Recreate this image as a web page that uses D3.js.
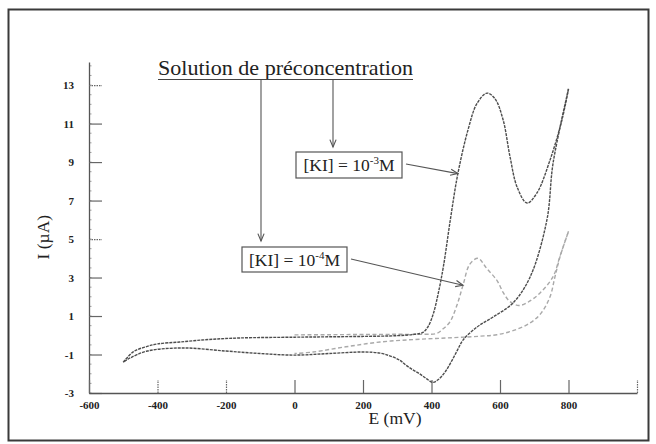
<!DOCTYPE html>
<html>
<head>
<meta charset="utf-8">
<script src="https://cdn.jsdelivr.net/npm/d3@7"></script>
<style>
  html, body { margin: 0; padding: 0; background: #fff; }
  svg { display: block; }
  text { font-family: "Liberation Serif", "Times New Roman", serif; fill: #222; }
</style>
</head>
<body>
<svg id="chart" width="656" height="444"></svg>
<script>
// Cyclic voltammograms after preconcentration in KI solutions
// Potential E in mV, current I in µA

// [KI] = 1e-3 M : forward scan -500 -> 800 mV, then back to -500 mV
const e3Forward = [-500, -470, -430, -400, -335, -250, -160, 0, 100, 200, 300, 350, 375, 390, 405, 420, 435, 455, 477, 507, 533, 562, 585, 609, 629, 650, 679, 708, 746, 781, 800];
const i3Forward = [-1.40, -0.85, -0.58, -0.45, -0.35, -0.22, -0.14, -0.10, -0.08, -0.06, -0.02, 0.05, 0.15, 0.45, 1.1, 2.2, 3.6, 6.0, 8.4, 10.7, 12.05, 12.58, 12.3, 11.2, 9.3, 7.7, 6.87, 7.4, 9.1, 11.2, 12.8];
const e3Reverse = [800, 755, 737, 688, 638, 580, 533, 492, 475, 460, 440, 420, 404, 385, 365, 346, 325, 308, 280, 250, 200, 100, 0, -100, -200, -325, -430, -480, -500];
const i3Reverse = [12.8, 8.95, 6.0, 3.03, 1.68, 0.95, 0.43, -0.25, -0.8, -1.3, -1.9, -2.3, -2.45, -2.25, -2.0, -1.8, -1.55, -1.3, -1.08, -0.93, -0.87, -0.95, -1.03, -0.95, -0.82, -0.66, -0.82, -1.18, -1.40];

// [KI] = 1e-4 M : forward scan 0 -> 800 mV, then back to 0 mV
const e4Forward = [0, 100, 200, 300, 380, 416, 435, 454, 475, 492, 512, 536, 560, 591, 610, 629, 655, 680, 717, 755, 775, 800];
const i4Forward = [0.02, 0.03, 0.04, 0.05, 0.05, 0.1, 0.35, 0.7, 1.6, 2.6, 3.7, 4.0, 3.5, 2.85, 2.2, 1.75, 1.55, 1.7, 2.2, 3.05, 4.1, 5.4];
const e4Reverse = [800, 775, 760, 746, 720, 688, 640, 591, 540, 445, 350, 250, 150, 54, 0];
const i4Reverse = [5.4, 4.06, 3.0, 2.0, 1.15, 0.64, 0.25, 0.03, -0.05, -0.14, -0.22, -0.35, -0.6, -0.87, -0.95];

// Axis ticks
const xTicks = [-600, -400, -200, 0, 200, 400, 600, 800, 1000];
const xTickLabels = ["-600", "-400", "-200", "0", "200", "400", "600", "800", ""];
const yTicks = [-3, -1, 1, 3, 5, 7, 9, 11, 13];
const yTickLabels = ["-3", "-1", "1", "3", "5", "7", "9", "11", "13"];

// Text
const titleText = "Solution de préconcentration";
const xTitle = "E (mV)";
const yTitle = "I (µA)";
const label3 = { base: "[KI] = 10", exp: "-3", unit: "M" };
const label4 = { base: "[KI] = 10", exp: "-4", unit: "M" };

const svg = d3.select("#chart");

// Page frame
svg.append("rect")
  .attr("x", 8.5).attr("y", 9.5).attr("width", 640).attr("height", 431)
  .attr("fill", "none").attr("stroke", "#3a3a3a").attr("stroke-width", 2);

const x = d3.scaleLinear().domain([-600, 1000]).range([89, 637]);
const y = d3.scaleLinear().domain([-3, 14.2]).range([393, 62]);

// Minor ticks on the current axis
const minor = d3.range(-3, 14.01, 0.5);
svg.append("g").selectAll("line").data(minor).join("line")
  .attr("x1", x(-600)).attr("x2", x(-600) + 2.5)
  .attr("y1", d => y(d)).attr("y2", d => y(d))
  .attr("stroke", "#888").attr("stroke-width", 0.8);

// Y axis
const yAxis = d3.axisLeft(y)
  .tickValues(yTicks)
  .tickFormat((d, i) => yTickLabels[i])
  .tickSizeInner(-13).tickSizeOuter(0).tickPadding(15);
const gy = svg.append("g").attr("transform", `translate(${x(-600)},0)`).call(yAxis);
gy.select(".domain").attr("stroke", "#555").attr("stroke-width", 1.3);
gy.selectAll(".tick line").attr("stroke", "#666").attr("stroke-width", 1.2)
  .attr("stroke-dasharray", d => (d === 13 || d === 5) ? "1.5,1" : null);
gy.selectAll(".tick text")
  .attr("font-family", "Liberation Serif, serif").attr("font-size", 11)
  .attr("font-weight", "bold").attr("fill", "#333");

// X axis
const xAxis = d3.axisBottom(x)
  .tickValues(xTicks)
  .tickFormat((d, i) => xTickLabels[i])
  .tickSizeInner(-13).tickSizeOuter(0).tickPadding(8);
const gx = svg.append("g").attr("transform", `translate(0,${y(-3)})`).call(xAxis);
gx.select(".domain").attr("stroke", "#555").attr("stroke-width", 1.3);
gx.selectAll(".tick line").attr("stroke", "#666").attr("stroke-width", 1.2)
  .attr("stroke-dasharray", d => (d === -400 || d === -200 || d === 1000) ? "1.5,1" : null);
gx.selectAll(".tick text")
  .attr("font-family", "Liberation Serif, serif").attr("font-size", 11)
  .attr("font-weight", "bold").attr("fill", "#333");

// Axis titles
svg.append("text")
  .attr("transform", `translate(49,${y(5.1)}) rotate(-90)`)
  .attr("text-anchor", "middle").attr("font-size", 17.5).text(yTitle);
svg.append("text")
  .attr("x", 395).attr("y", 424)
  .attr("text-anchor", "middle").attr("font-size", 17.5).text(xTitle);

// Curves
const line = d3.line()
  .x(d => x(d[0])).y(d => y(d[1]))
  .curve(d3.curveCatmullRom.alpha(0.5));
const zip = (es, is) => es.map((e, k) => [e, is[k]]);

const curves = [
  { pts: zip(e4Forward, i4Forward), color: "#a9a9a9", dash: "4,2.5" },
  { pts: zip(e4Reverse, i4Reverse), color: "#a9a9a9", dash: "4,2.5" },
  { pts: zip(e3Forward, i3Forward), color: "#4d4d4d", dash: "3,1" },
  { pts: zip(e3Reverse, i3Reverse), color: "#4d4d4d", dash: "3,1" }
];
svg.append("g").selectAll("path").data(curves).join("path")
  .attr("d", d => line(d.pts))
  .attr("fill", "none")
  .attr("stroke", d => d.color)
  .attr("stroke-width", 1.4)
  .attr("stroke-dasharray", d => d.dash);

// Annotations
const annot = svg.append("g");

function arrow(x1, y1, x2, y2) {
  annot.append("line")
    .attr("x1", x1).attr("y1", y1).attr("x2", x2).attr("y2", y2)
    .attr("stroke", "#555").attr("stroke-width", 1.1);
  const a = Math.atan2(y2 - y1, x2 - x1);
  const len = 8, spread = 0.4;
  const p = [
    [x2 - len * Math.cos(a - spread), y2 - len * Math.sin(a - spread)],
    [x2, y2],
    [x2 - len * Math.cos(a + spread), y2 - len * Math.sin(a + spread)]
  ];
  annot.append("path")
    .attr("d", d3.line()(p))
    .attr("fill", "none").attr("stroke", "#555").attr("stroke-width", 1.1);
}

function labelBox(bx, by, bw, bh, lab) {
  annot.append("rect")
    .attr("x", bx).attr("y", by).attr("width", bw).attr("height", bh)
    .attr("fill", "#fff").attr("stroke", "#555").attr("stroke-width", 1.2);
  const t = annot.append("text")
    .attr("x", bx + bw / 2).attr("y", by + bh / 2 + 6)
    .attr("text-anchor", "middle").attr("font-size", 17.5);
  t.append("tspan").text(lab.base);
  t.append("tspan").attr("font-size", 11).attr("dy", -7).text(lab.exp);
  t.append("tspan").attr("dy", 7).text(lab.unit);
}

// Heading with underline
annot.append("text")
  .attr("x", 158).attr("y", 75)
  .attr("font-size", 21).attr("textLength", 255).attr("lengthAdjust", "spacingAndGlyphs")
  .text(titleText);
annot.append("line")
  .attr("x1", 158).attr("x2", 413).attr("y1", 79.5).attr("y2", 79.5)
  .attr("stroke", "#444").attr("stroke-width", 1.2);

arrow(261, 80, 261, 241);
arrow(333, 80, 333, 147);

labelBox(296, 152, 106, 26, label3);
labelBox(242, 247, 105, 25, label4);

// Arrows from the labels to their curves
arrow(406, 164, x(477), y(8.4));
arrow(351, 259, x(492), y(2.6));
</script>
</body>
</html>
